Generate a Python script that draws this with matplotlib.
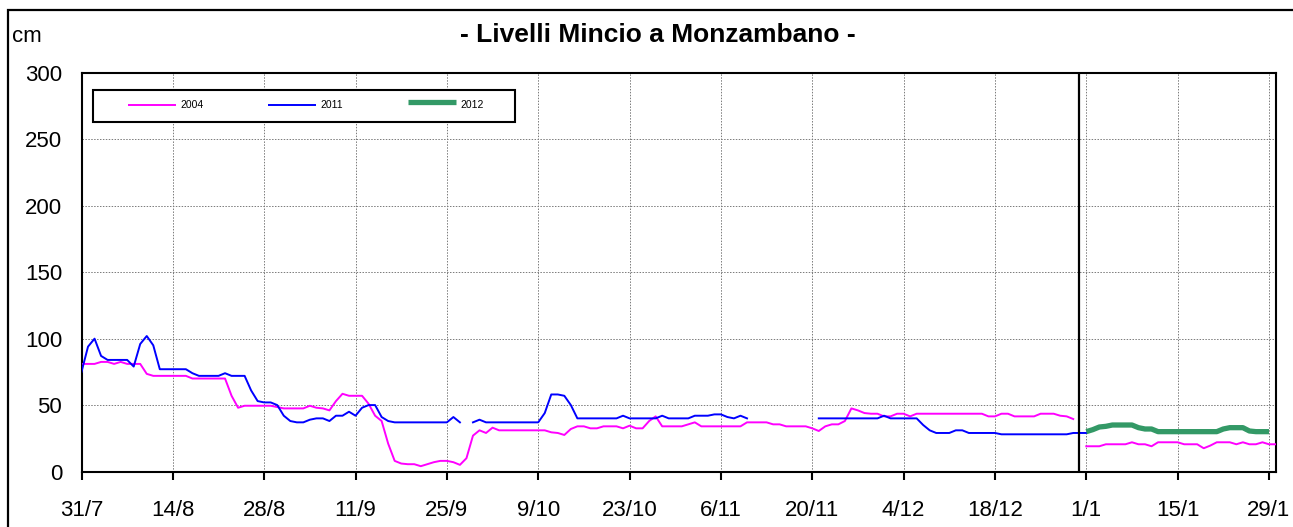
import numpy as np
import matplotlib
matplotlib.use("Agg")
import matplotlib.pyplot as plt
from matplotlib.lines import Line2D
from matplotlib.patches import Rectangle

plt.rcParams['font.family'] = ['Liberation Sans', 'DejaVu Sans']

# ---------------- data ----------------
# day index 0 = 31/7, one value per day (cm)
tick_days = [0, 14, 28, 42, 56, 70, 84, 98, 112, 126, 140, 154, 168, 182]
tick_labels = ['31/7', '14/8', '28/8', '11/9', '25/9', '9/10', '23/10', '6/11',
               '20/11', '4/12', '18/12', '1/1', '15/1', '29/1']
y_ticks = [0, 50, 100, 150, 200, 250, 300]

n = None
level_2004 = [
    81, 81, 81, 82.5, 82.5, 81, 82.5, 81, 81, 81,
    73.5, 72, 72, 72, 72, 72, 72, 70, 70, 70,
    70, 70, 70, 57, 48, 49.5, 49.5, 49.5, 49.5, 49.5,
    48.5, 47.5, 47.5, 47.5, 47.5, 49.5, 48, 47.5, 46, 53,
    58.5, 57, 57, 57, 51, 42, 38, 21, 8, 6,
    5.5, 5.5, 4, 5.5, 7, 8, 8, 7, 5, 10,
    27, 31, 29, 33, 31, 31, 31, 31, 31, 31,
    31, 31, 29.5, 29, 27.5, 32, 34, 34, 32.5, 32.5,
    34, 34, 34, 32.5, 34.5, 32.5, 32.5, 38, 41.5, 34,
    34, 34, 34, 35.5, 37, 34, 34, 34, 34, 34,
    34, 34, 37, 37, 37, 37, 35.5, 35.5, 34, 34,
    34, 34, 32.5, 30.5, 34, 35.5, 35.5, 38, 47.5, 46,
    44, 43.5, 43.5, 41.5, 41.5, 43.5, 43.5, 41.5, 43.5, 43.5,
    43.5, 43.5, 43.5, 43.5, 43.5, 43.5, 43.5, 43.5, 43.5, 41.5,
    41.5, 43.5, 43.5, 41.5, 41.5, 41.5, 41.5, 43.5, 43.5, 43.5,
    42, 41.5, 39.5, n, 19, 19, 19, 20.5, 20.5, 20.5,
    20.5, 22, 20.5, 20.5, 19, 22, 22, 22, 22, 20.5,
    20.5, 20.5, 17.5, 19.5, 22, 22, 22, 20.5, 22, 20.5,
    20.5, 22, 20.5, 20.5,
]

level_2011 = [
    75, 94, 100, 87, 84, 84, 84, 84, 79, 96,
    102, 95, 77, 77, 77, 77, 77, 74, 72, 72,
    72, 72, 74, 72, 72, 72, 61, 53, 52, 52,
    50, 42, 38, 37, 37, 39, 40, 40, 38, 42,
    42, 45, 42, 48, 50, 50, 41, 38, 37, 37,
    37, 37, 37, 37, 37, 37, 37, 41, 37, n,
    37, 39, 37, 37, 37, 37, 37, 37, 37, 37,
    37, 44, 58, 58, 57, 50, 40, 40, 40, 40,
    40, 40, 40, 42, 40, 40, 40, 40, 40, 42,
    40, 40, 40, 40, 42, 42, 42, 43, 43, 41,
    40, 42, 40, n, n, n, n, n, n, n,
    n, n, n, 40, 40, 40, 40, 40, 40, 40,
    40, 40, 40, 42, 40, 40, 40, 40, 40, 35,
    31, 29, 29, 29, 31, 31, 29, 29, 29, 29,
    29, 28, 28, 28, 28, 28, 28, 28, 28, 28,
    28, 28, 29, 29, 29, n, n, n, n, n,
] + [n] * 24

level_2012 = [n] * 154 + [
    30, 31.5, 33.5, 34, 35, 35, 35, 35, 33, 32,
    32, 30, 30, 30, 30, 30, 30, 30, 30, 30,
    30, 32, 33, 33, 33, 30.5, 30, 30, 30,
] + [n]

days = np.arange(len(level_2004))

W, H = 1293, 527
fig = plt.figure(figsize=(W / 100, H / 100), dpi=100)


def fx(px):
    return px / W


def fy(py):
    return 1 - py / H


ax = fig.add_axes([fx(81.5), fy(471.5), fx(1275.5) - fx(81.5), fy(73) - fy(471.5)])

to_arr = lambda v: np.array([np.nan if x is None else x for x in v], dtype=float)

ax.plot(days, to_arr(level_2004), color='#FF00FF', lw=1.4, zorder=3)
ax.plot(days, to_arr(level_2011), color='#0000FF', lw=1.4, zorder=3)
ax.plot(days, to_arr(level_2012), color='#339966', lw=3.8, zorder=4,
        solid_capstyle='butt')

ax.axvline(152.9, color='black', lw=1.6, zorder=5)

ax.set_xlim(0, 183)
ax.set_ylim(0, 300)
ax.set_xticks(tick_days)
ax.set_xticklabels(tick_labels)
ax.set_yticks(y_ticks)
ax.tick_params(axis='x', length=5.8, width=1.5, pad=14.5, labelsize=16, direction='out')
ax.tick_params(axis='y', length=0, pad=14, labelsize=16)
ax.grid(True, color='#7a7a7a', lw=0.7, linestyle=(0, (1.5, 1.5)), zorder=1)
for s in ax.spines.values():
    s.set_linewidth(1.5)
    s.set_color('black')

# outer frame
fig.add_artist(Rectangle((fx(8), -0.1), 1.2, fy(10) + 0.1, transform=fig.transFigure,
                         fill=False, lw=1.6, edgecolor='black', clip_on=False))

fig.text(fx(12), fy(42), 'cm', fontsize=16, ha='left', va='baseline')
fig.text(fx(658), fy(42), '- Livelli Mincio a Monzambano -', fontsize=19,
         fontweight='bold', ha='center', va='baseline')

# legend box
fig.add_artist(Rectangle((fx(93), fy(121.5)), fx(515) - fx(93), fy(90) - fy(121.5),
                         transform=fig.transFigure, fill=True, facecolor='white',
                         lw=1.5, edgecolor='black', zorder=6))
legend_items = [('2004', '#FF00FF', 1.4, 128, 105), ('2011', '#0000FF', 1.4, 268, 105),
                ('2012', '#339966', 3.8, 408, 102)]
for lab, col, lw, x0, yl in legend_items:
    fig.add_artist(Line2D([fx(x0), fx(x0 + 48)], [fy(yl), fy(yl)], color=col, lw=lw,
                          transform=fig.transFigure, zorder=7, solid_capstyle='butt'))
    fig.text(fx(x0 + 52), fy(105), lab, fontsize=7.5, ha='left', va='center', zorder=7)

fig.savefig('out.png', dpi=100)
